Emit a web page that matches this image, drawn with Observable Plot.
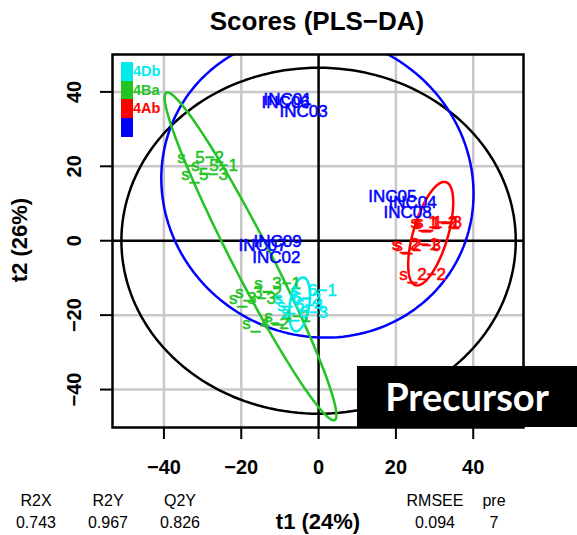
<!DOCTYPE html>
<html>
<head>
<meta charset="utf-8">
<script src="https://cdn.jsdelivr.net/npm/d3@7"></script>
<script src="https://cdn.jsdelivr.net/npm/@observablehq/plot@0.6"></script>
<style>
  html, body { margin: 0; padding: 0; background: #fff; }
  #wrap { position: relative; width: 577px; height: 535px; overflow: hidden; font-family: "Liberation Sans", Arial, sans-serif; color: #000; }
  .abs { position: absolute; white-space: nowrap; }
</style>
</head>
<body>
<div id="wrap"></div>
<script>
// ---------- data ----------
const groups = ["4Db", "4Ba", "4Ab", ""];
const groupColors = ["#00ecec", "#22c322", "#ff0000", "#0000ff"];

const blueLabels = ["INC01", "INC06", "INC03", "INC05", "INC04", "INC08", "INC09", "INC07", "INC02"];
const blueT1 = [-8.0, -8.5, -3.9, 19.1, 24.3, 23.0, -10.6, -14.5, -10.9];
const blueT2 = [37.9, 37.1, 34.7, 11.8, 10.2, 7.7, -0.3, -1.2, -4.4];

const redLabels = ["s_1-1", "s_1-2", "s_1-3", "s_2-1", "s_2-3", "s_2-2"];
const redT1 = [30.5, 29.8, 31.0, 25.0, 25.6, 26.9];
const redT2 = [4.6, 4.8, 5.0, -1.0, -1.2, -9.2];

const greenLabels = ["s_5-2", "s_5-1", "s_5-3", "s_3-1", "s_3-2", "s_3-3", "s_4-1", "s_4-2"];
const greenT1 = [-30.5, -26.9, -29.5, -10.6, -15.5, -17.1, -8.0, -13.7];
const greenT2 = [22.3, 20.1, 17.7, -11.4, -13.9, -15.5, -20.3, -22.2];

const cyanLabels = ["s_6-1", "s_6-2", "s_6-3", "s_6-4"];
const cyanT1 = [-1.3, -5.4, -3.6, -4.7];
const cyanT2 = [-13.3, -15.5, -19.2, -17.3];

// ellipses: name, centre, semi-axes, rotation (deg)
const ellName = ["all", "", "4Ba", "4Ab", "4Db"];
const ellCx = [0, -0.3, -17.6, 29, -4.9];
const ellCy = [0, 14.7, -4.2, 1.9, -17.1];
const ellA = [51, 41.6, 49.1, 14.4, 7.3];
const ellB = [46.5, 39.5, 5, 4.5, 2.5];
const ellAngle = [0, -50, -63.7, 74.3, 82];
const ellColors = ["#000000", "#0000ff", "#22c322", "#ff0000", "#00ecec"];

const xTicks = [-40, -20, 0, 20, 40];
const yTicks = [-40, -20, 0, 20, 40];
const gridTicks = [-40, -20, 20, 40];

const statNames = ["R2X", "R2Y", "Q2Y", "RMSEE", "pre"];
const statValues = ["0.743", "0.967", "0.826", "0.094", "7"];

// ---------- build tables ----------
const points = [];
function addPts(labels, t1, t2, g) {
  labels.forEach((l, i) => points.push({label: l.replace("-", "\u2212"), t1: t1[i], t2: t2[i], g}));
}
addPts(blueLabels, blueT1, blueT2, "");
addPts(redLabels, redT1, redT2, "4Ab");
addPts(greenLabels, greenT1, greenT2, "4Ba");
addPts(cyanLabels, cyanT1, cyanT2, "4Db");

const ellPts = [];
ellName.forEach((n, k) => {
  const th = ellAngle[k] * Math.PI / 180;
  for (let i = 0; i <= 360; i += 2) {
    const t = i * Math.PI / 180;
    const u = ellA[k] * Math.cos(t), v = ellB[k] * Math.sin(t);
    ellPts.push({k, x: ellCx[k] + u * Math.cos(th) - v * Math.sin(th), y: ellCy[k] + u * Math.sin(th) + v * Math.cos(th)});
  }
});

const colorOf = g => groupColors[groups.indexOf(g)];

const plot = Plot.plot({
  width: 577,
  height: 436,
  marginTop: 10,
  marginBottom: 53,
  marginLeft: 112,
  marginRight: 54,
  style: {fontFamily: "'Liberation Sans', Arial, sans-serif", background: "transparent", overflow: "visible"},
  x: {domain: [-53.3, 53]},
  y: {domain: [-50.2, 50.05]},
  marks: [
    Plot.gridX(gridTicks, {stroke: "#c8c8c8", strokeOpacity: 1, strokeWidth: 2.5}),
    Plot.gridY(gridTicks, {stroke: "#c8c8c8", strokeOpacity: 1, strokeWidth: 2.5}),
    Plot.ruleX([0], {stroke: "#000", strokeWidth: 2.5}),
    Plot.ruleY([0], {stroke: "#000", strokeWidth: 2.5}),
    Plot.line(ellPts, {x: "x", y: "y", z: "k", stroke: d => ellColors[d.k], strokeWidth: 2.5, clip: true}),
    Plot.text(points, {x: "t1", y: "t2", text: "label", fill: d => colorOf(d.g), stroke: d => colorOf(d.g), strokeWidth: 0.5, fontSize: 17}),
    Plot.frame({stroke: "#000", strokeWidth: 2.5}),
    Plot.axisX(xTicks, {tickSize: 12, tickPadding: 20, fontSize: 20, fontWeight: "bold", strokeWidth: 2, label: null}),
    Plot.axisY(yTicks, {tickSize: 12, tickPadding: 20, tickRotate: -90, fontSize: 20, fontWeight: "bold", strokeWidth: 2, label: null})
  ]
});

const wrap = document.getElementById("wrap");
plot.style.position = "absolute";
plot.style.left = "0px";
plot.style.top = "44px";
wrap.appendChild(plot);

function addDiv(text, css) {
  const d = document.createElement("div");
  d.className = "abs";
  d.textContent = text;
  Object.assign(d.style, css);
  wrap.appendChild(d);
  return d;
}

// title
addDiv("Scores (PLS\u2212DA)", {left: "0px", width: "634px", top: "8px", textAlign: "center", fontSize: "26px", lineHeight: "26px", fontWeight: "bold"});

// y-axis title
addDiv("t2 (26%)", {left: "-80px", width: "200px", top: "229px", height: "22px", lineHeight: "22px", textAlign: "center", fontSize: "22px", fontWeight: "bold", transform: "rotate(-90deg)"});

// x-axis title
addDiv("t1 (24%)", {left: "218px", width: "200px", top: "511px", lineHeight: "22px", textAlign: "center", fontSize: "22px", fontWeight: "bold"});

// stats
const statX = [36, 108, 180, 435, 494];
statNames.forEach((n, i) => {
  addDiv(n, {left: (statX[i] - 50) + "px", width: "100px", top: "493px", lineHeight: "16px", textAlign: "center", fontSize: "16px"});
  addDiv(statValues[i], {left: (statX[i] - 50) + "px", width: "100px", top: "515px", lineHeight: "16px", textAlign: "center", fontSize: "16px"});
});

// legend
groups.forEach((g, i) => {
  const r = document.createElement("div");
  Object.assign(r.style, {position: "absolute", left: "121px", top: (62 + i * 18.7) + "px", width: "12px", height: "18.7px", background: groupColors[i]});
  wrap.appendChild(r);
  if (g) addDiv(g, {left: "133px", top: (62 + i * 18.7) + "px", lineHeight: "18px", fontSize: "14.5px", fontWeight: "bold", color: groupColors[i]});
});

// precursor box
addDiv("Precursor", {left: "357px", top: "366px", width: "220px", height: "61px", background: "#000", color: "#fff", fontFamily: "Lato, 'Open Sans', sans-serif", fontWeight: "bold", fontSize: "38px", lineHeight: "61px", textAlign: "center"});
</script>
</body>
</html>
